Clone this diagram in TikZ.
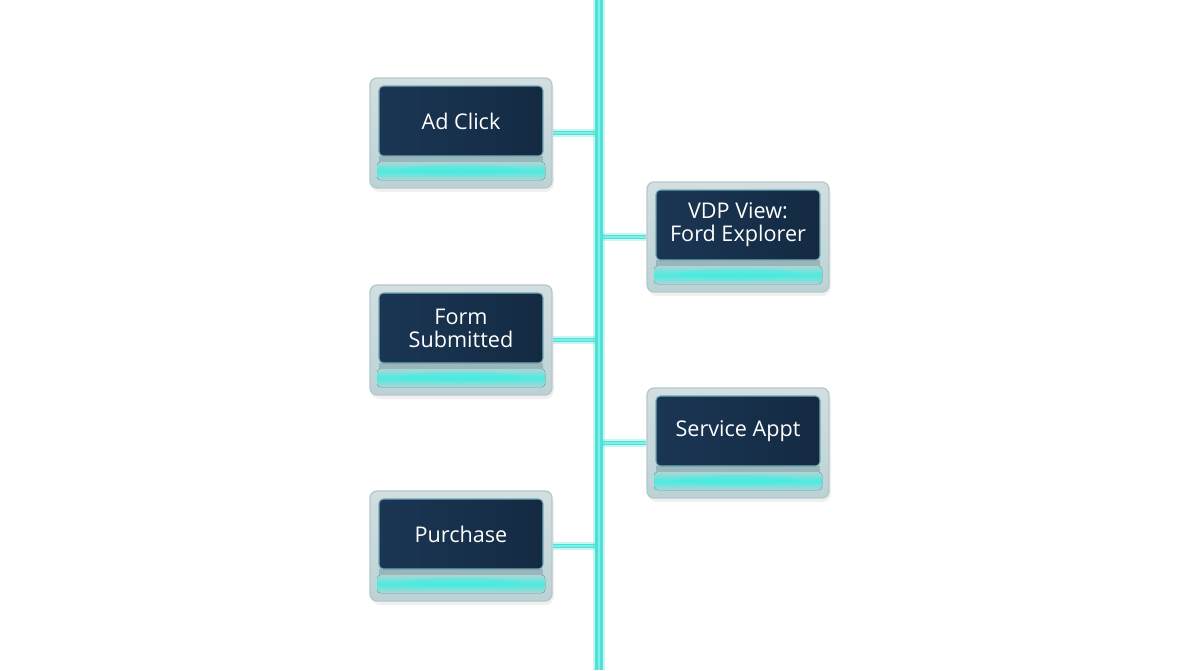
\documentclass[tikz,border=0pt]{standalone}
\usepackage{fontspec}
\setmainfont{Open Sans}
\definecolor{spinecyan}{HTML}{4FE0D6}
\definecolor{spinecore}{HTML}{7FEFE7}
\definecolor{cardtop}{HTML}{D3DEE0}
\definecolor{cardbot}{HTML}{BBD3D6}
\definecolor{cardedge}{HTML}{B5C8CB}
\definecolor{navyA}{HTML}{1A3654}
\definecolor{navyB}{HTML}{142A42}
\definecolor{inneredge}{HTML}{6FA9B3}
\definecolor{glowmid}{HTML}{4CEBDF}
\definecolor{glowedge}{HTML}{AAD6D8}
\definecolor{glowcore}{HTML}{3FEFE2}
\definecolor{shadowstrip}{HTML}{9AB6BA}
\newcommand\eventcard[4]{%
  \fill[black, opacity=0.06, rounded corners=5pt] (#2-90,#3+4) rectangle (#2+93,#3+114);
  \node[outercard] (#1) at (#2,#3+55) {};
  \fill[shadowstrip] (#2-82,#3+78) rectangle (#2+82,#3+84);
  \fill[glowband, rounded corners=2pt] (#2-84,#3+84) rectangle (#2+84,#3+102);
  \fill[glowcenter] (#2,#3+92) ellipse [x radius=60, y radius=5];
  \node[innercard] (#1-label) at (#2,#3+43) {#4};
}
\begin{document}
\begin{tikzpicture}[x=0.02cm,y=-0.02cm,
  outercard/.style={rounded corners=4pt, draw=cardedge, line width=0.8pt,
    top color=cardtop, bottom color=cardbot, minimum width=3.64cm,
    minimum height=2.2cm, inner sep=0pt},
  innercard/.style={rounded corners=2.5pt, draw=inneredge, line width=0.6pt,
    left color=navyA, right color=navyB, text=white, align=center,
    font=\fontsize{12.3}{13}\selectfont, inner sep=0pt,
    minimum width=3.28cm, minimum height=1.4cm},
  glowband/.style={top color=glowedge, bottom color=glowedge, middle color=glowmid},
  glowcenter/.style={fill=glowcore, opacity=0.4},
  spineglow/.style={draw=spinecyan, opacity=0.3, line width=6.5pt},
  spinemain/.style={draw=spinecyan, line width=4pt},
  spinecoreline/.style={draw=spinecore, line width=1.6pt},
  linkglow/.style={draw=spinecyan, opacity=0.3, line width=4.8pt},
  linkmain/.style={draw=spinecyan, line width=2.8pt},
  linkcore/.style={draw=spinecore, line width=1.1pt}]
\fill[white] (0,0) rectangle (1200,670);
\useasboundingbox (0,0) rectangle (1200,670);

\coordinate (spinetop) at (599,0);
\coordinate (spinebot) at (599,670);

\eventcard{adclick}{461}{78}{Ad Click}
\eventcard{vdp}{738}{182}{VDP View:\\Ford Explorer}
\eventcard{form}{461}{285}{Form\\Submitted}
\eventcard{service}{738}{388}{Service Appt}
\eventcard{purchase}{461}{491}{Purchase}

\foreach \n in {adclick,form,purchase}{
  \draw[linkglow] (\n.east) -- (\n.east -| spinetop);
  \draw[linkmain] (\n.east) -- (\n.east -| spinetop);
  \draw[linkcore] (\n.east) -- (\n.east -| spinetop);
}
\foreach \n in {vdp,service}{
  \draw[linkglow] (\n.west) -- (\n.west -| spinetop);
  \draw[linkmain] (\n.west) -- (\n.west -| spinetop);
  \draw[linkcore] (\n.west) -- (\n.west -| spinetop);
}
\draw[spineglow] (spinetop) -- (spinebot);
\draw[spinemain] (spinetop) -- (spinebot);
\draw[spinecoreline] (spinetop) -- (spinebot);
\end{tikzpicture}
\end{document}
